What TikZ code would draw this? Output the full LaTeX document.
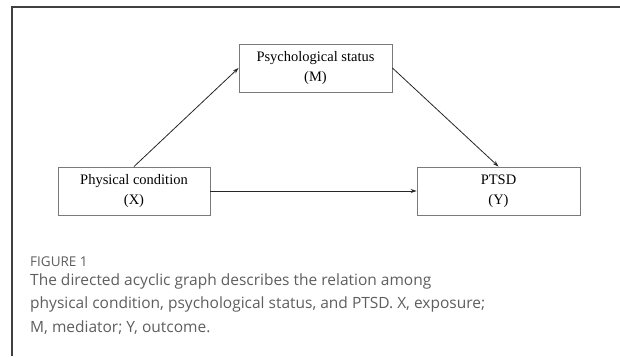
\documentclass[tikz,border=0pt]{standalone}
\usepackage{fontspec}
\setmainfont{Liberation Serif}
\newfontfamily\capfont{Open Sans}
\usepackage{xcolor}
\usetikzlibrary{positioning,arrows.meta}

\definecolor{framegray}{HTML}{404040}
\definecolor{boxgray}{HTML}{7A7A7A}
\definecolor{captiongray}{HTML}{5E5E5E}

\tikzset{
  varbox/.style={draw=boxgray, line width=0.9pt, align=center, inner sep=0pt,
    minimum height=48pt, font=\fontsize{14.5}{20}\selectfont},
  causal/.style={-{Stealth[length=6pt,width=4pt]}, line width=0.8pt, black!85},
}

\begin{document}
\begin{tikzpicture}[x=1pt, y=-1pt]
    \useasboundingbox (0,0) rectangle (620,356);
    % frame
    \draw[framegray, line width=1.8pt] (620,7) -- (12,7) -- (12,356);

    \node[varbox, minimum width=152pt] (phys) at (134,191) {Physical condition\\(X)};
    \node[varbox, minimum width=153pt] (psych) at (315.5,68) {Psychological status\\(M)};
    \node[varbox, minimum width=163pt] (ptsd) at (498.5,191) {PTSD\\(Y)};

    \draw[causal] (phys.north) -- (psych.west);
    \draw[causal] (psych.east) -- (ptsd.north);
    \draw[causal] (phys.east) -- (ptsd.west);

    % caption
    \node[anchor=north west, inner sep=0pt, text=captiongray,
      font=\capfont\fontsize{13.5}{16}\selectfont] (fig) at (30,257) {FIGURE 1};
    \node[below=6pt of fig.south west, anchor=north west, inner sep=0pt,
      text=captiongray, align=left, font=\capfont\fontsize{15.5}{23.5}\selectfont]
      (caption) {The directed acyclic graph describes the relation among\\
      physical condition, psychological status, and PTSD. X, exposure;\\
      M, mediator; Y, outcome.};
\end{tikzpicture}
\end{document}
